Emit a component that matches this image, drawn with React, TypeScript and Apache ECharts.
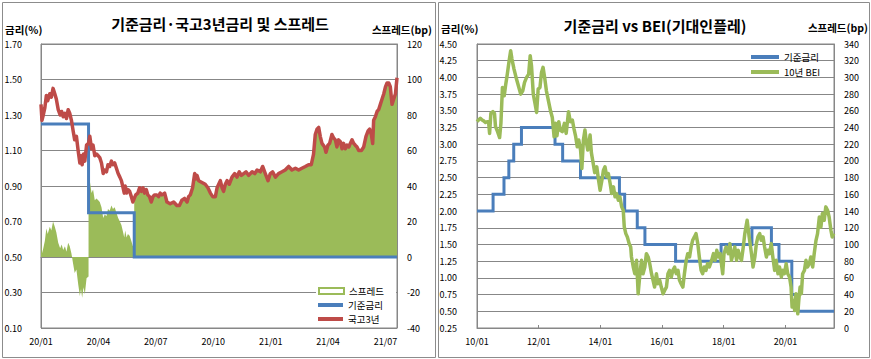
import React, { useEffect, useRef } from 'react';
import * as echarts from 'echarts';

// ---------------- Left chart data (months since 2020-01) ----------------
const leftBaseChangeDates = ['2020-01-01', '2020-03-16', '2020-05-28'];
const leftBaseLevels = [1.25, 0.75, 0.5];
const leftEndMonth = 18.6;

// 국고3년 yield (%), [months since Jan-2020, value]
const ktb3yYield: [number, number][] = [
  [0.00, 1.36], [0.05, 1.27], [0.12, 1.30], [0.20, 1.34], [0.28, 1.41], [0.35, 1.38], [0.46, 1.42], [0.54, 1.40],
  [0.63, 1.45], [0.72, 1.42], [0.80, 1.39], [0.90, 1.33], [1.00, 1.30], [1.08, 1.32], [1.16, 1.29], [1.25, 1.31],
  [1.33, 1.28], [1.42, 1.33], [1.50, 1.31], [1.59, 1.27], [1.68, 1.21], [1.76, 1.16], [1.85, 1.18], [1.94, 1.10],
  [2.03, 1.03], [2.09, 1.07], [2.15, 1.02], [2.22, 1.08], [2.29, 1.04], [2.38, 1.13], [2.484, 1.14], [2.55, 1.18],
  [2.64, 1.11], [2.72, 1.13], [2.81, 1.07], [2.90, 1.08], [2.99, 1.07], [3.07, 1.06], [3.16, 1.03], [3.25, 0.97],
  [3.33, 0.99], [3.42, 0.98], [3.50, 1.02], [3.59, 1.01], [3.68, 1.04], [3.76, 1.02], [3.85, 1.03], [3.94, 1.00],
  [4.03, 0.97], [4.12, 0.95], [4.20, 0.93], [4.29, 0.89], [4.35, 0.86], [4.40, 0.90], [4.47, 0.86], [4.54, 0.88],
  [4.63, 0.87], [4.72, 0.84], [4.80, 0.81], [4.871, 0.83], [4.95, 0.85], [5.06, 0.86], [5.15, 0.89], [5.24, 0.87],
  [5.33, 0.89], [5.41, 0.86], [5.50, 0.88], [5.58, 0.85], [5.67, 0.84], [5.76, 0.81], [5.85, 0.84], [5.93, 0.85],
  [6.05, 0.85], [6.14, 0.84], [6.23, 0.86], [6.32, 0.85], [6.46, 0.86], [6.58, 0.81], [6.75, 0.80], [6.93, 0.81],
  [7.10, 0.79], [7.23, 0.79], [7.36, 0.82], [7.50, 0.83], [7.63, 0.81], [7.71, 0.84], [7.80, 0.85], [7.92, 0.89],
  [8.03, 0.97], [8.10, 0.94], [8.15, 0.96], [8.24, 0.93], [8.41, 0.92], [8.58, 0.91], [8.72, 0.89], [8.85, 0.86],
  [8.97, 0.84], [9.11, 0.84], [9.20, 0.89], [9.37, 0.93], [9.46, 0.89], [9.54, 0.87], [9.63, 0.91], [9.72, 0.93],
  [9.84, 0.91], [9.98, 0.95], [10.12, 0.97], [10.24, 0.95], [10.36, 0.98], [10.47, 0.96], [10.59, 0.97], [10.71, 0.98],
  [10.85, 0.96], [11.03, 0.98], [11.17, 0.97], [11.29, 0.99], [11.46, 0.98], [11.58, 1.01], [11.72, 0.97], [11.86, 0.93],
  [11.98, 0.97], [12.10, 0.98], [12.25, 0.95], [12.41, 0.97], [12.59, 0.98], [12.76, 0.99], [12.94, 1.01], [13.11, 0.99],
  [13.29, 1.00], [13.46, 0.99], [13.63, 1.00], [13.81, 1.01], [13.98, 1.02], [14.12, 1.02], [14.24, 1.08], [14.33, 1.19],
  [14.42, 1.22], [14.51, 1.23], [14.59, 1.18], [14.68, 1.14], [14.82, 1.12], [14.89, 1.09], [14.99, 1.13], [15.08, 1.14],
  [15.20, 1.19], [15.29, 1.17], [15.38, 1.16], [15.46, 1.12], [15.55, 1.16], [15.64, 1.15], [15.73, 1.11], [15.81, 1.14],
  [15.90, 1.11], [15.99, 1.13], [16.08, 1.12], [16.16, 1.14], [16.25, 1.16], [16.34, 1.14], [16.42, 1.13], [16.51, 1.12],
  [16.60, 1.10], [16.74, 1.10], [16.86, 1.12], [16.98, 1.18], [17.09, 1.21], [17.17, 1.22], [17.26, 1.19], [17.33, 1.14],
  [17.38, 1.27], [17.47, 1.29], [17.56, 1.32], [17.64, 1.33], [17.73, 1.36], [17.82, 1.39], [17.91, 1.42], [18.00, 1.46],
  [18.08, 1.48], [18.17, 1.48], [18.25, 1.46], [18.34, 1.36], [18.43, 1.39], [18.52, 1.42], [18.60, 1.51],
];

// ---------------- Right chart data (months since 2010-01) ----------------
const rightBaseChangeDates = [
  '2010-01-01', '2010-07-09', '2010-11-16', '2011-01-13', '2011-03-10', '2011-06-10', '2012-07-12', '2012-10-11',
  '2013-05-09', '2014-08-14', '2014-10-15', '2015-03-12', '2015-06-11', '2016-06-09', '2017-11-30', '2018-11-30',
  '2019-07-18', '2019-10-16', '2020-03-16', '2020-05-28',
];
const rightBaseLevels = [
  2.0, 2.25, 2.5, 2.75, 3.0, 3.25, 3.0, 2.75, 2.5, 2.25, 2.0, 1.75, 1.5, 1.25, 1.5, 1.75, 1.5, 1.25, 0.75, 0.5,
];
const rightEndMonth = 138.9;

// 10년 BEI (bp), [months since Jan-2010, value]
const bei10y: [number, number][] = [
  [0.0, 247], [0.6, 249], [1.3, 251], [2.0, 249], [2.6, 248], [3.3, 246], [3.9, 247], [4.5, 247], [4.9, 233], [5.4, 257],
  [6.2, 259], [6.8, 257], [7.2, 241], [8.0, 235], [8.8, 228], [9.3, 245], [9.9, 288], [10.6, 278], [11.1, 290], [11.8, 304],
  [12.5, 320], [13.1, 332], [13.6, 322], [14.4, 310], [15.2, 300], [16.1, 290], [17.0, 280], [17.8, 284], [18.5, 294], [19.3, 300],
  [20.1, 304], [20.7, 326], [21.2, 314], [21.9, 280], [22.5, 270], [23.2, 258], [23.8, 286], [24.5, 288], [25.1, 306], [25.7, 312],
  [26.4, 298], [27.0, 284], [27.8, 272], [28.6, 260], [29.3, 252], [30.0, 229], [30.5, 245], [31.1, 230], [31.8, 247], [32.4, 237],
  [33.2, 235], [34.0, 245], [34.7, 233], [35.6, 259], [36.3, 247], [37.1, 249], [37.7, 239], [38.4, 229], [39.0, 217], [39.6, 225],
  [40.3, 213], [40.8, 191], [41.4, 225], [42.0, 237], [42.5, 223], [43.1, 213], [44.0, 231], [44.5, 210], [45.1, 199], [45.8, 186],
  [46.6, 193], [47.3, 177], [47.9, 165], [48.6, 177], [49.2, 189], [49.8, 193], [50.5, 181], [51.1, 185], [51.8, 173], [52.4, 161],
  [53.1, 169], [53.7, 157], [54.3, 161], [55.0, 153], [55.6, 157], [56.3, 145], [56.9, 141], [57.3, 121], [57.9, 113], [58.5, 109],
  [59.2, 101], [59.8, 97], [60.1, 85], [60.8, 73], [61.4, 65], [62.1, 81], [62.7, 41], [63.4, 65], [64.0, 81], [64.6, 65],
  [65.3, 73], [65.9, 89], [66.6, 85], [67.2, 77], [67.9, 65], [68.5, 57], [69.1, 49], [69.8, 65], [70.4, 53], [71.1, 57],
  [71.7, 49], [72.4, 41], [73.0, 45], [73.7, 49], [74.3, 65], [74.9, 69], [75.6, 61], [76.2, 69], [76.9, 73], [77.5, 65],
  [78.2, 69], [78.8, 57], [79.4, 53], [80.1, 49], [80.7, 65], [81.4, 81], [82.0, 89], [82.7, 85], [83.3, 97], [83.9, 105],
  [84.6, 109], [85.2, 113], [85.9, 101], [86.5, 85], [87.2, 69], [87.8, 65], [88.4, 73], [89.1, 69], [89.7, 77], [90.4, 73],
  [91.3, 81], [92.0, 89], [92.6, 81], [93.3, 93], [93.9, 85], [94.6, 89], [95.6, 65], [96.1, 89], [96.9, 97], [97.8, 89],
  [98.4, 101], [99.0, 81], [99.7, 89], [100.3, 97], [101.0, 81], [101.6, 93], [102.3, 85], [102.9, 81], [103.6, 97], [104.2, 113],
  [105.1, 129], [105.9, 109], [106.8, 89], [107.4, 73], [108.1, 85], [108.7, 101], [109.3, 109], [110.0, 113], [110.6, 105], [111.3, 109],
  [111.9, 97], [112.6, 85], [113.2, 93], [113.8, 89], [114.5, 101], [115.1, 85], [115.8, 69], [116.4, 81], [117.1, 65], [117.7, 73],
  [118.4, 61], [119.0, 69], [119.6, 65], [120.3, 77], [120.9, 65], [121.6, 61], [122.2, 49], [122.6, 25], [123.1, 33], [123.6, 21],
  [124.1, 41], [124.8, 17], [125.2, 33], [125.7, 49], [126.2, 41], [126.7, 65], [127.4, 69], [128.0, 81], [128.6, 73], [129.3, 77],
  [129.9, 85], [130.6, 73], [131.2, 89], [131.9, 105], [132.5, 113], [133.2, 133], [133.8, 121], [134.4, 137], [135.1, 129], [135.7, 145],
  [136.4, 141], [137.0, 133], [137.7, 117], [138.2, 109], [138.8, 113],
];

// ---------------- helpers ----------------
const FONT = '"Noto Sans CJK KR", "Noto Sans", sans-serif';
const GRID = '#878787';
const BLUE = '#4A7EBB';
const RED = '#BE4B48';
const GREEN = '#9BBB59';

function monthIndex(date: string, baseYear: number): number {
  const [y, m, d] = date.split('-').map(Number);
  const dim = new Date(y, m, 0).getDate();
  return (y - baseYear) * 12 + (m - 1) + (d - 1) / dim;
}

function stepPoints(dates: string[], levels: number[], baseYear: number, end: number): number[][] {
  const pts: number[][] = [];
  dates.forEach((d, i) => {
    const m = monthIndex(d, baseYear);
    if (i > 0) pts.push([m, levels[i - 1]]);
    pts.push([m, levels[i]]);
  });
  pts.push([end, levels[levels.length - 1]]);
  return pts;
}

function spreadPoints(): number[][] {
  const changes = leftBaseChangeDates.map((d, i) => ({ m: monthIndex(d, 2020), lvl: leftBaseLevels[i] }));
  const baseAt = (m: number) => {
    let lvl = changes[0].lvl;
    for (const c of changes) if (c.m <= m) lvl = c.lvl;
    return lvl;
  };
  const out: number[][] = [];
  let prev = -Infinity;
  for (const [m, v] of ktb3yYield) {
    for (let k = 1; k < changes.length; k++) {
      const c = changes[k];
      if (c.m > prev && c.m <= m) {
        out.push([c.m, Math.round((v - changes[k - 1].lvl) * 100)]);
        out.push([c.m, Math.round((v - c.lvl) * 100)]);
      }
    }
    out.push([m, Math.round((v - baseAt(m)) * 100)]);
    prev = m;
  }
  return out;
}

const pad2 = (n: number) => String(n).padStart(2, '0');

function gtext(text: string, x: number, y: number, size: number, align: string, bold = true) {
  return {
    type: 'text',
    x,
    y,
    z: 10,
    style: {
      text,
      fill: '#000',
      fontSize: size,
      fontWeight: bold ? 'bold' : 'normal',
      fontFamily: FONT,
      align,
      verticalAlign: 'middle',
      textAlign: align,
      textVerticalAlign: 'middle',
    },
  };
}

function legendItem(name: string, left: number, top: number, w: number, h: number, itemStyle: any) {
  return {
    show: true,
    selectedMode: false,
    left,
    top,
    padding: 0,
    itemWidth: w,
    itemHeight: h,
    textStyle: { fontSize: 9.5, lineHeight: 11, color: '#000', fontFamily: FONT },
    data: [{ name, icon: 'rect', itemStyle }],
  };
}

function axisCommon() {
  return {
    axisLine: { show: true, lineStyle: { color: GRID, width: 1 } },
    axisTick: { show: false },
  };
}

function buildLeft() {
  return {
    animation: false,
    textStyle: { fontFamily: FONT, color: '#000' },
    grid: { left: 41, top: 44, width: 356, height: 284, show: true, borderColor: GRID, borderWidth: 1 },
    xAxis: {
      type: 'value',
      min: 0,
      max: leftEndMonth,
      interval: 3,
      axisLine: { show: true, lineStyle: { color: GRID } },
      axisTick: { show: true, inside: true, length: 3, lineStyle: { color: GRID } },
      splitLine: { show: false },
      axisLabel: {
        fontSize: 9,
        color: '#000',
        margin: 9,
        formatter: (v: number) => {
          if (Math.abs(v % 3) > 1e-6) return '';
          const yy = 20 + Math.floor(v / 12);
          const mm = (v % 12) + 1;
          return `${yy}/${pad2(mm)}`;
        },
      },
    },
    yAxis: [
      {
        type: 'value',
        min: 0.1,
        max: 1.7,
        interval: 0.2,
        ...axisCommon(),
        splitLine: { show: true, lineStyle: { color: GRID, width: 1 } },
        axisLabel: { fontSize: 9, color: '#000', margin: 19, formatter: (v: number) => v.toFixed(2) },
      },
      {
        type: 'value',
        position: 'right',
        min: -40,
        max: 120,
        interval: 20,
        ...axisCommon(),
        splitLine: { show: false },
        axisLabel: { fontSize: 9, color: '#000', margin: 10 },
      },
    ],
    legend: [
      legendItem('스프레드', 318, 285.5, 25, 6, { color: '#fff', borderColor: GREEN, borderWidth: 2 }),
      legendItem('기준금리', 318, 299.5, 25, 4, { color: BLUE, borderWidth: 0 }),
      legendItem('국고3년', 318, 313.5, 25, 4, { color: RED, borderWidth: 0 }),
    ],
    graphic: [
      { type: 'rect', shape: { x: 2.5, y: 2.5, width: 433, height: 355 }, style: { fill: 'none', stroke: '#8c8c8c', lineWidth: 1 }, z: 0 },
      { type: 'rect', shape: { x: 316, y: 284, width: 80, height: 42 }, style: { fill: '#fff' }, z: 3 },
      gtext('기준금리·국고3년금리 및 스프레드', 220, 23, 15, 'center'),
      gtext('금리(%)', 5, 29, 10.5, 'left'),
      gtext('스프레드(bp)', 432, 29, 10.5, 'right'),
    ],
    series: [
      {
        name: '스프레드',
        type: 'line',
        yAxisIndex: 1,
        data: spreadPoints(),
        symbol: 'none',
        showSymbol: false,
        lineStyle: { width: 0, opacity: 0 },
        itemStyle: { color: GREEN },
        areaStyle: { color: GREEN, opacity: 1 },
        z: 1,
      },
      {
        name: '기준금리',
        type: 'line',
        data: stepPoints(leftBaseChangeDates, leftBaseLevels, 2020, leftEndMonth),
        symbol: 'none',
        showSymbol: false,
        lineStyle: { width: 3, color: BLUE, join: 'miter' },
        itemStyle: { color: BLUE },
        z: 2,
      },
      {
        name: '국고3년',
        type: 'line',
        data: ktb3yYield,
        symbol: 'none',
        showSymbol: false,
        lineStyle: { width: 3.5, color: RED, join: 'round' },
        itemStyle: { color: RED },
        z: 3,
      },
    ],
  };
}

function buildRight() {
  return {
    animation: false,
    textStyle: { fontFamily: FONT, color: '#000' },
    grid: { left: 41, top: 44, width: 357, height: 284, show: true, borderColor: GRID, borderWidth: 1 },
    xAxis: {
      type: 'value',
      min: 0,
      max: rightEndMonth,
      interval: 24,
      axisLine: { show: true, lineStyle: { color: GRID } },
      axisTick: { show: true, inside: true, length: 3, lineStyle: { color: GRID } },
      splitLine: { show: false },
      axisLabel: {
        fontSize: 9,
        color: '#000',
        margin: 9,
        formatter: (v: number) => {
          if (Math.abs(v % 24) > 1e-6) return '';
          return `${pad2(10 + v / 12)}/01`;
        },
      },
    },
    yAxis: [
      {
        type: 'value',
        min: 0.25,
        max: 4.5,
        interval: 0.25,
        ...axisCommon(),
        splitLine: { show: true, lineStyle: { color: GRID, width: 1 } },
        axisLabel: { fontSize: 9, color: '#000', margin: 20, formatter: (v: number) => v.toFixed(2) },
      },
      {
        type: 'value',
        position: 'right',
        min: 0,
        max: 340,
        interval: 20,
        ...axisCommon(),
        splitLine: { show: false },
        axisLabel: { fontSize: 9, color: '#000', margin: 10 },
      },
    ],
    legend: [
      legendItem('기준금리', 315, 51.5, 28, 4, { color: BLUE, borderWidth: 0 }),
      legendItem('10년 BEI', 315, 66.5, 28, 4, { color: GREEN, borderWidth: 0 }),
    ],
    graphic: [
      { type: 'rect', shape: { x: 2.5, y: 2.5, width: 431, height: 355 }, style: { fill: 'none', stroke: '#8c8c8c', lineWidth: 1 }, z: 0 },
      gtext('기준금리 vs BEI(기대인플레)', 219, 25, 15, 'center'),
      gtext('금리(%)', 5, 28, 10.5, 'left'),
      gtext('스프레드(bp)', 432, 27, 10.5, 'right'),
    ],
    series: [
      {
        name: '기준금리',
        type: 'line',
        data: stepPoints(rightBaseChangeDates, rightBaseLevels, 2010, rightEndMonth),
        symbol: 'none',
        showSymbol: false,
        lineStyle: { width: 3, color: BLUE, join: 'miter' },
        itemStyle: { color: BLUE },
        z: 2,
      },
      {
        name: '10년 BEI',
        type: 'line',
        yAxisIndex: 1,
        data: bei10y,
        symbol: 'none',
        showSymbol: false,
        lineStyle: { width: 3.5, color: GREEN, join: 'round' },
        itemStyle: { color: GREEN },
        z: 3,
      },
    ],
  };
}

export default function App() {
  const leftRef = useRef<HTMLDivElement>(null);
  const rightRef = useRef<HTMLDivElement>(null);

  useEffect(() => {
    const l = echarts.init(leftRef.current as HTMLDivElement, undefined, { renderer: 'svg' });
    const r = echarts.init(rightRef.current as HTMLDivElement, undefined, { renderer: 'svg' });
    l.setOption(buildLeft() as any);
    r.setOption(buildRight() as any);
    return () => {
      l.dispose();
      r.dispose();
    };
  }, []);

  return (
    <div style={{ position: 'absolute', left: 0, top: 0, width: 871, height: 359, background: '#fff' }}>
      <div ref={leftRef} style={{ position: 'absolute', left: 0, top: 0, width: 436, height: 359 }} />
      <div ref={rightRef} style={{ position: 'absolute', left: 436, top: 0, width: 435, height: 359 }} />
    </div>
  );
}
